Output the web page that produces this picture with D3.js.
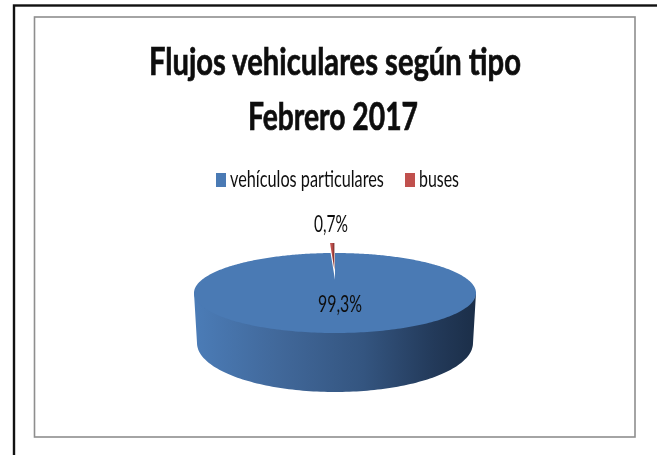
<!DOCTYPE html>
<html>
<head>
<meta charset="utf-8">
<script src="https://cdn.jsdelivr.net/npm/d3@7"></script>
<style>
  html, body { margin: 0; padding: 0; background: #fff; }
  svg { display: block; }
  text { font-family: Lato, "Open Sans", sans-serif; fill: #111; }
</style>
</head>
<body>
<svg id="chart"></svg>
<script>
const categories = ['vehículos particulares', 'buses'];
const values = [99.3, 0.7];
const valueLabels = ['99,3%', '0,7%'];
const titleLines = ['Flujos vehiculares según tipo', 'Febrero 2017'];
const colors = ['#4a7ab4', '#c0504d'];

const width = 657, height = 455;

const svg = d3.select('#chart').attr('width', width).attr('height', height);
const defs = svg.append('defs');

// the source picture is a slightly soft screenshot
defs.append('filter').attr('id', 'soft')
  .append('feGaussianBlur').attr('stdDeviation', 0.4);

// squeeze a text horizontally to the width it has in the source (calibri is narrower)
function fitText(sel, left, baseline, targetW) {
  sel.each(function (d, i) {
    const w = this.getComputedTextLength();
    d3.select(this).attr('transform', `translate(${left(d, i)},${baseline(d, i)}) scale(${targetW(d, i) / w},1)`);
  });
}

// frames
svg.append('rect').attr('x', 14).attr('y', 5.5).attr('width', 660).attr('height', 470)
  .attr('fill', 'none').attr('stroke', '#111').attr('stroke-width', 2.4);
svg.append('rect').attr('x', 34.5).attr('y', 17).attr('width', 600.5).attr('height', 420)
  .attr('fill', '#fff').attr('stroke', '#8e8e8e').attr('stroke-width', 1.6);

// title
const titleLeft = [149, 248], titleBase = [74.5, 129.5], titleWidths = [372, 170];
svg.selectAll('.title').data(titleLines).enter().append('text')
  .attr('class', 'title')
  .attr('font-size', 38).attr('font-weight', 700)
  .attr('stroke', '#111').attr('stroke-width', 0.7)
  .attr('filter', 'url(#soft)')
  .text(d => d)
  .call(fitText, (d, i) => titleLeft[i], (d, i) => titleBase[i], (d, i) => titleWidths[i]);

// legend
const legendSwatchX = [216, 405], legendTextX = [230, 419], legendTextW = [154, 40];
const legend = svg.selectAll('.legend').data(categories).enter().append('g').attr('class', 'legend');
legend.append('rect')
  .attr('x', (d, i) => legendSwatchX[i]).attr('y', 173)
  .attr('width', 10).attr('height', 14)
  .attr('fill', (d, i) => colors[i]);
legend.append('text')
  .attr('font-size', 23)
  .attr('filter', 'url(#soft)')
  .text(d => d)
  .call(fitText, (d, i) => legendTextX[i], () => 187, (d, i) => legendTextW[i]);

// 3D pie: top face is a unit disc pushed through a perspective map, so the
// centre sits above the middle of the ellipse like in the office chart
const cx = 335, cy = 293, rx = 141, ry = 40, persp = -0.33;
const bottomCy = 343, bottomRx = 138, bottomRy = 49;

function project(r, a) {
  const X = r * Math.sin(a), Y = -r * Math.cos(a);
  const den = 1 + persp * Y;
  return [cx + rx * X * Math.sqrt(1 - persp * persp) / den, cy + ry * (Y + persp) / den];
}

const pie = d3.pie().sort(null).startAngle(0).endAngle(2 * Math.PI);
const slices = pie(values);
const line = d3.line();

function slicePath(s) {
  const n = Math.max(4, Math.ceil((s.endAngle - s.startAngle) * 60));
  const pts = d3.range(n + 1).map(i => project(1, s.startAngle + (s.endAngle - s.startAngle) * i / n));
  return line([project(0, 0), ...pts]) + 'Z';
}

// side wall
const wall = defs.append('linearGradient').attr('id', 'wall');
[['0%', '#4b7cb7'], ['30%', '#41689a'], ['60%', '#345580'], ['85%', '#233a5a'], ['100%', '#1b2e48']]
  .forEach(s => wall.append('stop').attr('offset', s[0]).attr('stop-color', s[1]));

const lowerAngles = d3.range(0, 121).map(i => Math.PI * i / 120);
const wallPts = [[cx - rx, cy]]
  .concat(lowerAngles.map(a => [cx - bottomRx * Math.cos(a), bottomCy + bottomRy * Math.sin(a)]))
  .concat([[cx + rx, cy]]);
svg.append('path').attr('d', line(wallPts) + 'Z').attr('fill', 'url(#wall)');

// top face, blue slice first and then the pulled out red one
const redGrad = defs.append('linearGradient').attr('id', 'redFace');
[['0%', '#c9605c'], ['55%', '#b84a47'], ['100%', '#6e2a28']]
  .forEach(s => redGrad.append('stop').attr('offset', s[0]).attr('stop-color', s[1]));

svg.append('path').attr('d', slicePath(slices[0])).attr('fill', colors[0]);
svg.append('path').attr('d', slicePath(slices[1]))
  .attr('transform', 'translate(-0.6,-10)')
  .attr('fill', 'url(#redFace)');

// value labels
const labelLeft = [318, 314], labelBase = [312, 232], labelW = [44, 34];
svg.selectAll('.val').data(valueLabels).enter().append('text')
  .attr('class', 'val')
  .attr('font-size', 23)
  .attr('filter', 'url(#soft)')
  .text(d => d)
  .call(fitText, (d, i) => labelLeft[i], (d, i) => labelBase[i], (d, i) => labelW[i]);
</script>
</body>
</html>
